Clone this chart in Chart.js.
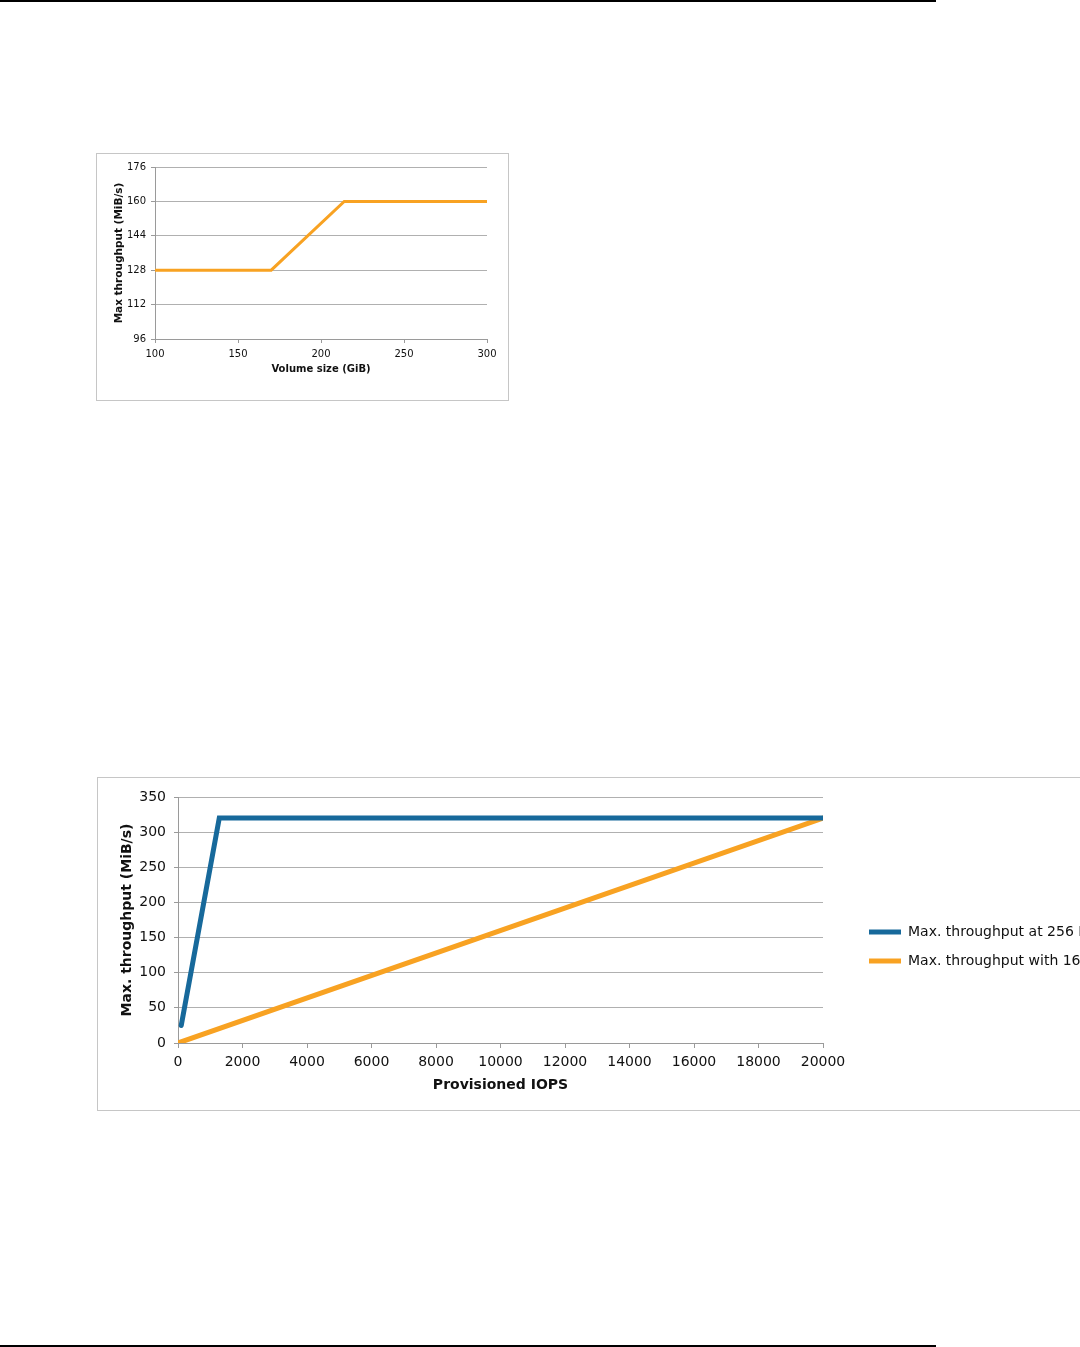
<!DOCTYPE html>
<html>
<head>
<meta charset="utf-8">
<script src="https://cdn.jsdelivr.net/npm/chart.js@4.4.1/dist/chart.umd.min.js"></script>
<style>
    html, body { margin: 0; padding: 0; background: #fff; overflow: hidden; width: 1080px; height: 1347px; }
    .rule { position: absolute; left: 0; width: 936px; height: 2px; background: #000; }
    .box { position: absolute; border: 1px solid #c6c6c6; background: #fff; }
    .box canvas { display: block; }
</style>
</head>
<body>
<div class="rule" style="top:0"></div>
<div class="rule" style="top:1345px"></div>

<div class="box" style="left:96px; top:153px; width:411px; height:246px;">
    <canvas id="sizeChart" width="411" height="246"></canvas>
</div>
<div class="box" style="left:97px; top:777px; width:1046px; height:332px;">
    <canvas id="iopsChart" width="1046" height="332"></canvas>
</div>

<script>
// Chart 1: volume size vs max throughput
const volumeSizeGiB = [100, 170, 214, 300];
const volumeThroughput = [128, 128, 160, 160];

// Chart 2: provisioned IOPS vs max throughput
const iopsAt256 = [100, 1280, 20000];
const throughputAt256 = [25, 320, 320];
const iopsWith16 = [0, 20000];
const throughputWith16 = [0, 320];

const seriesLabels = ['Max. throughput at 256 KiB I/O', 'Max. throughput with 16 KiB I/O'];

const orange = '#f8a222';
const blue = '#17699b';
const gridColor = '#b0b0b0';
const axisColor = '#9a9a9a';

Chart.defaults.font.family = 'Verdana, "DejaVu Sans", sans-serif';
Chart.defaults.color = '#111';

function toPoints(xs, ys) {
    return xs.map((x, i) => ({ x: x, y: ys[i] }));
}

function axis(min, max, step, size, title, titleSize, fixed, isY, pad) {
    return {
        type: 'linear',
        min: min,
        max: max,
        ticks: { stepSize: step, font: { size: size }, color: '#111', padding: pad, format: { useGrouping: false } },
        grid: {
            color: gridColor,
            lineWidth: 1,
            drawOnChartArea: isY,
            tickLength: 4,
            tickColor: axisColor
        },
        border: { color: axisColor, width: 1 },
        title: {
            display: true,
            text: title,
            font: { size: titleSize, weight: 'bold' },
            color: '#111',
            padding: { top: 2, bottom: 2 }
        },
        afterFit: function(scale) {
            if (isY) scale.width = fixed; else scale.height = fixed;
        }
    };
}

// the right-hand legend is squeezed by default; keep it wide enough for the text
const wideLegend = {
    id: 'wideLegend',
    afterInit(chart) {
        const legend = chart.legend;
        const fit = legend.fit;
        legend.fit = function() {
            fit.call(this);
            this.width = 290;
        };
    }
};

// Chart 1
new Chart(document.getElementById('sizeChart'), {
    type: 'line',
    data: {
        datasets: [{
            data: toPoints(volumeSizeGiB, volumeThroughput),
            borderColor: orange,
            backgroundColor: orange,
            borderWidth: 3,
            pointRadius: 0,
            tension: 0
        }]
    },
    options: {
        responsive: false,
        animation: false,
        layout: { padding: { top: 13, right: 21, bottom: 23, left: 14 } },
        plugins: { legend: { display: false }, tooltip: { enabled: false } },
        scales: {
            x: axis(100, 300, 50, 10, 'Volume size (GiB)', 10, 38, false, 5),
            y: axis(96, 176, 16, 10, 'Max throughput (MiB/s)', 10.5, 44, true, 5)
        }
    }
});

// Chart 2
const xIops = axis(0, 20000, 2000, 14, 'Provisioned IOPS', 14, 53, false, 6);
xIops.grid.tickLength = 5;
new Chart(document.getElementById('iopsChart'), {
    type: 'line',
    data: {
        datasets: [{
            label: seriesLabels[0],
            data: toPoints(iopsAt256, throughputAt256),
            borderColor: blue,
            backgroundColor: blue,
            borderWidth: 5,
            borderCapStyle: 'round',
            pointRadius: 0,
            tension: 0
        }, {
            label: seriesLabels[1],
            data: toPoints(iopsWith16, throughputWith16),
            borderColor: orange,
            backgroundColor: orange,
            borderWidth: 5,
            borderCapStyle: 'round',
            pointRadius: 0,
            tension: 0
        }]
    },
    plugins: [wideLegend],
    options: {
        responsive: false,
        animation: false,
        layout: { padding: { top: 19, right: 0, bottom: 14, left: 19 } },
        plugins: {
            tooltip: { enabled: false },
            legend: {
                position: 'right',
                labels: {
                    boxWidth: 32,
                    boxHeight: 5,
                    padding: 15,
                    font: { size: 14 },
                    color: '#111',
                    generateLabels: function(chart) {
                        const items = Chart.defaults.plugins.legend.labels.generateLabels(chart);
                        items.forEach(item => { item.lineWidth = 0; item.fillStyle = item.strokeStyle; });
                        return items;
                    }
                }
            }
        },
        scales: {
            x: xIops,
            y: axis(0, 350, 50, 14, 'Max. throughput (MiB/s)', 14, 61, true, 8),
            // empty spacer between plot and legend
            gap: {
                type: 'linear',
                position: 'right',
                display: true,
                ticks: { display: false },
                grid: { display: false },
                border: { display: false },
                afterFit: function(scale) { scale.width = 31; }
            }
        }
    }
});
</script>
</body>
</html>
